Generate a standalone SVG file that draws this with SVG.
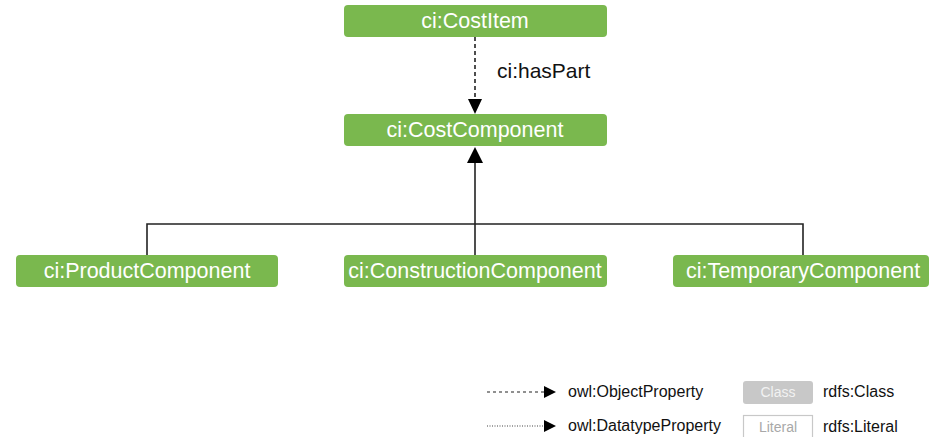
<svg xmlns="http://www.w3.org/2000/svg" width="930" height="437" viewBox="0 0 930 437">
  <style>
    .cls rect { fill: #7ab84e; }
    .cls text { fill: #ffffff; font-family: "Liberation Sans", Arial, sans-serif; font-size: 21.5px; text-anchor: middle; }
    .lbl { fill: #111111; font-family: "Liberation Sans", Arial, sans-serif; }
    .edge { fill: none; stroke: #222222; stroke-width: 1.6; }
    .head { fill: #000000; }
  </style>
  <rect width="930" height="437" fill="#ffffff"/>

  <!-- connectors -->
  <g id="connectors">
    <!-- ci:hasPart (object property) -->
    <line class="edge" x1="475" y1="37" x2="475" y2="100" stroke-dasharray="4 3"/>
    <polygon class="head" points="468,99 482,99 475,114"/>
    <text class="lbl" x="497" y="78" font-size="21">ci:hasPart</text>
    <!-- subclass tree -->
    <line class="edge" x1="475" y1="162" x2="475" y2="255"/>
    <polyline class="edge" points="147,255 147,224 803,224 803,255"/>
    <polygon class="head" points="467,163 483,163 475,147"/>
  </g>

  <!-- class nodes -->
  <g id="costItem" class="cls">
    <rect x="344" y="5" width="263" height="32" rx="4"/>
    <text x="475" y="28">ci:CostItem</text>
  </g>
  <g id="costComponent" class="cls">
    <rect x="344" y="114" width="263" height="32" rx="4"/>
    <text x="475" y="137">ci:CostComponent</text>
  </g>
  <g id="productComponent" class="cls">
    <rect x="16" y="255" width="262" height="32" rx="4"/>
    <text x="147" y="278">ci:ProductComponent</text>
  </g>
  <g id="constructionComponent" class="cls">
    <rect x="344" y="255" width="263" height="32" rx="4"/>
    <text x="475" y="278">ci:ConstructionComponent</text>
  </g>
  <g id="temporaryComponent" class="cls">
    <rect x="673" y="255" width="256" height="32" rx="4"/>
    <text x="803" y="278">ci:TemporaryComponent</text>
  </g>

  <!-- legend -->
  <g id="legend">
    <line x1="487" y1="392" x2="545" y2="392" stroke="#222" stroke-width="1.2" stroke-dasharray="3 3"/>
    <polygon class="head" points="544,386 544,398 556,392"/>
    <text class="lbl" x="568" y="397" font-size="16">owl:ObjectProperty</text>
    <line x1="487" y1="426" x2="545" y2="426" stroke="#444" stroke-width="1.2" stroke-dasharray="1 1.5"/>
    <polygon class="head" points="544,420 544,432 556,426"/>
    <text class="lbl" x="568" y="431" font-size="16">owl:DatatypeProperty</text>

    <rect x="743" y="381" width="70" height="23" rx="3" fill="#c8c8c8"/>
    <text x="778" y="397" font-family="Liberation Sans, Arial, sans-serif" font-size="14" fill="#f2f2f2" text-anchor="middle">Class</text>
    <text class="lbl" x="823" y="397" font-size="16">rdfs:Class</text>

    <rect x="743.5" y="415.5" width="69" height="26" fill="#ffffff" stroke="#c8c8c8" stroke-width="1.2"/>
    <text x="778" y="432" font-family="Liberation Sans, Arial, sans-serif" font-size="14" fill="#a8a8a8" text-anchor="middle">Literal</text>
    <text class="lbl" x="823" y="432" font-size="16">rdfs:Literal</text>
  </g>
</svg>
